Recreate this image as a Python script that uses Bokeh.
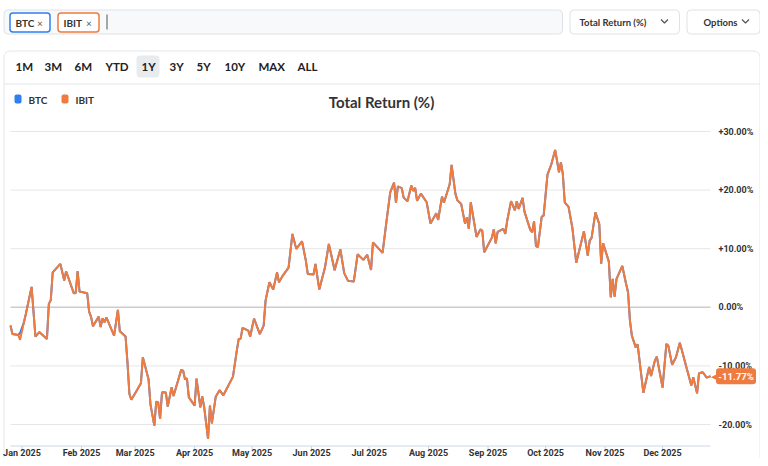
from datetime import datetime
from bokeh.plotting import figure
from bokeh.models import Range1d
from bokeh.core.properties import value
from bokeh.embed import file_html
from bokeh.resources import INLINE

# ---------------- data ----------------
dates = [
    "2024-12-26", "2024-12-27", "2024-12-30", "2024-12-31", "2025-01-02", "2025-01-03",
    "2025-01-06", "2025-01-08", "2025-01-10", "2025-01-14", "2025-01-15", "2025-01-16",
    "2025-01-17", "2025-01-21", "2025-01-23", "2025-01-24", "2025-01-28", "2025-01-29",
    "2025-01-30", "2025-01-31", "2025-02-04", "2025-02-05", "2025-02-06", "2025-02-07",
    "2025-02-10", "2025-02-11", "2025-02-12", "2025-02-13", "2025-02-14", "2025-02-18",
    "2025-02-20", "2025-02-21", "2025-02-24", "2025-02-25", "2025-02-26", "2025-02-27",
    "2025-03-02", "2025-03-04", "2025-03-05", "2025-03-08", "2025-03-09", "2025-03-11",
    "2025-03-12", "2025-03-13", "2025-03-14", "2025-03-15", "2025-03-17", "2025-03-18",
    "2025-03-20", "2025-03-21", "2025-03-25", "2025-03-26", "2025-03-27", "2025-03-28",
    "2025-03-29", "2025-04-01", "2025-04-02", "2025-04-04", "2025-04-05", "2025-04-06",
    "2025-04-08", "2025-04-09", "2025-04-10", "2025-04-12", "2025-04-14", "2025-04-16",
    "2025-04-21", "2025-04-23", "2025-04-24", "2025-04-25", "2025-04-26", "2025-04-29",
    "2025-04-30", "2025-05-01", "2025-05-02", "2025-05-05", "2025-05-07", "2025-05-08",
    "2025-05-10", "2025-05-12", "2025-05-14", "2025-05-15", "2025-05-17", "2025-05-20",
    "2025-05-22", "2025-05-24", "2025-05-27", "2025-05-29", "2025-05-30", "2025-06-02",
    "2025-06-03", "2025-06-05", "2025-06-08", "2025-06-10", "2025-06-13", "2025-06-16",
    "2025-06-18", "2025-06-20", "2025-06-23", "2025-06-25", "2025-06-28", "2025-06-30",
    "2025-07-02", "2025-07-03", "2025-07-08", "2025-07-10", "2025-07-12", "2025-07-14",
    "2025-07-15", "2025-07-16", "2025-07-18", "2025-07-19", "2025-07-21", "2025-07-23",
    "2025-07-24", "2025-07-25", "2025-07-26", "2025-07-28", "2025-07-31", "2025-08-02",
    "2025-08-05", "2025-08-06", "2025-08-08", "2025-08-09", "2025-08-12", "2025-08-13",
    "2025-08-15", "2025-08-16", "2025-08-18", "2025-08-20", "2025-08-21", "2025-08-22",
    "2025-08-23", "2025-08-26", "2025-08-28", "2025-08-29", "2025-08-30", "2025-09-03",
    "2025-09-04", "2025-09-05", "2025-09-06", "2025-09-09", "2025-09-10", "2025-09-11",
    "2025-09-13", "2025-09-15", "2025-09-16", "2025-09-17", "2025-09-19", "2025-09-20",
    "2025-09-23", "2025-09-24", "2025-09-25", "2025-09-26", "2025-09-27", "2025-09-29",
    "2025-09-30", "2025-10-02", "2025-10-04", "2025-10-06", "2025-10-08", "2025-10-09",
    "2025-10-10", "2025-10-11", "2025-10-13", "2025-10-15", "2025-10-17", "2025-10-21",
    "2025-10-23", "2025-10-24", "2025-10-25", "2025-10-27", "2025-10-29", "2025-10-30",
    "2025-10-31", "2025-11-03", "2025-11-04", "2025-11-05", "2025-11-06", "2025-11-07",
    "2025-11-10", "2025-11-12", "2025-11-13", "2025-11-14", "2025-11-15", "2025-11-17",
    "2025-11-18", "2025-11-21", "2025-11-24", "2025-11-25", "2025-11-27", "2025-11-28",
    "2025-12-01", "2025-12-03", "2025-12-04", "2025-12-06", "2025-12-08", "2025-12-10",
    "2025-12-11", "2025-12-16", "2025-12-17", "2025-12-19", "2025-12-20", "2025-12-22",
    "2025-12-24", "2025-12-26",
]

ibit_values = [
    -3.12, -4.54, -4.71, -5.56, -2.56, -1.13,
    3.48, -5.00, -4.23, -5.39, 0.58, 1.23,
    5.97, 7.41, 4.56, 6.14, 2.39, 2.45,
    6.20, 2.68, 2.39, -0.73, -1.64, -3.24,
    -1.59, -3.38, -1.88, -2.56, -1.71, -4.83,
    -0.43, -4.10, -5.00, -9.44, -14.78, -15.78,
    -14.13, -12.97, -8.53, -12.34, -16.60, -20.19,
    -16.09, -16.21, -19.04, -14.51, -14.56, -16.95,
    -13.65, -15.15, -10.68, -10.80, -12.30, -12.12,
    -15.36, -16.77, -12.17, -17.06, -15.19, -17.06,
    -22.46, -16.77, -19.80, -15.27, -14.15, -15.02,
    -11.83, -7.39, -5.39, -5.35, -3.52, -3.98,
    -5.00, -3.41, -1.93, -4.57, -3.12, 1.14,
    4.27, 3.05, 5.97, 4.27, 5.41, 6.77,
    12.53, 9.97, 11.26, 7.97, 5.70, 5.58,
    7.41, 3.05, 6.83, 10.82, 6.33, 9.90,
    5.84, 4.51, 4.39, 9.04, 8.09, 8.96,
    6.38, 11.09, 9.30, 14.54, 19.62, 21.28,
    17.83, 20.63, 20.34, 18.72, 18.09, 20.77,
    19.86, 20.38, 18.16, 19.40, 17.92, 14.28,
    16.04, 14.91, 18.89, 17.83, 20.99, 24.30,
    19.35, 18.28, 17.65, 14.28, 15.36, 13.38,
    17.92, 12.01, 13.29, 13.09, 9.39, 11.89,
    13.29, 10.92, 12.88, 13.38, 12.53, 14.80,
    18.12, 16.55, 18.09, 16.79, 18.67, 16.33,
    13.26, 12.80, 14.68, 10.44, 10.29, 15.48,
    15.65, 22.65, 24.40, 26.86, 23.04, 24.74,
    22.76, 17.92, 17.12, 13.52, 7.59, 12.97,
    8.82, 11.38, 11.84, 16.21, 14.20, 7.46,
    10.92, 7.80, 1.71, 4.85, 1.83, 4.85,
    7.06, 3.99, 2.56, -2.27, -4.83, -6.83,
    -6.31, -14.59, -10.19, -11.74, -9.10, -8.41,
    -13.70, -6.25, -6.54, -9.81, -8.53, -6.06,
    -7.25, -13.36, -11.95, -14.68, -11.26, -11.09,
    -12.00, -11.77,
]

# BTC tracks IBIT almost exactly; it differs visibly only at year start
btc_values = list(ibit_values)
btc_values[3] = -4.40

series_names = ["BTC", "IBIT"]
series_colors = ["#2f7ff0", "#ef7b3e"]
y_ticks = [-20, -10, 0, 10, 20, 30]
month_ticks = ["2025-01-01", "2025-02-01", "2025-03-01", "2025-04-01", "2025-05-01", "2025-06-01",
               "2025-07-01", "2025-08-01", "2025-09-01", "2025-10-01", "2025-11-01", "2025-12-01"]
timeframes = ["1M", "3M", "6M", "YTD", "1Y", "3Y", "5Y", "10Y", "MAX", "ALL"]
selected_timeframe = "1Y"
chart_title = "Total Return (%)"
metric_button = "Total Return (%)"
options_button = "Options"

# ---------------- layout constants (pixels) ----------------
W, H = 760, 458
PLOT_L, PLOT_R = 10, 710          # horizontal extent of the plotting area
ZERO_PX, PX_PER_PCT = 306.8, 5.86  # vertical placement of 0 % and scale
AXIS_Y = 445.5
UI = "Lato"
NUM = "Roboto"

x = [datetime.strptime(d, "%Y-%m-%d") for d in dates]
mt = [datetime.strptime(d, "%Y-%m-%d") for d in month_ticks]
span = x[-1] - x[0]
x_start = x[0] - span * (PLOT_L / (PLOT_R - PLOT_L))
x_end = x[-1] + span * ((W - PLOT_R) / (PLOT_R - PLOT_L))
y_start = (ZERO_PX - H) / PX_PER_PCT
y_end = ZERO_PX / PX_PER_PCT

p = figure(width=W, height=H, x_axis_type="datetime", x_axis_location=None, y_axis_location=None,
           toolbar_location=None, output_backend="svg",
           x_range=Range1d(x_start, x_end), y_range=Range1d(y_start, y_end),
           min_border=0, min_border_left=0, min_border_right=0,
           min_border_top=0, min_border_bottom=0)
p.outline_line_color = None
p.background_fill_color = "white"
p.border_fill_color = "white"
for g in p.grid:
    g.visible = False

# pixel coordinate system for the page chrome
PX = "px"
p.extra_x_ranges = {PX: Range1d(0, W)}
p.extra_y_ranges = {PX: Range1d(H, 0)}


def box(l, t, r, b, fill=None, line=None, lw=1, radius=0):
    kw = dict(left=[l], right=[r], top=[t], bottom=[b], x_range_name=PX, y_range_name=PX,
              fill_color=fill, fill_alpha=1 if fill else 0, line_color=line, line_width=lw)
    try:
        p.quad(border_radius=radius, **kw)
    except Exception:
        p.quad(**kw)


def label(xp, yp, s, size="10px", style="bold", color="#333333", align="left", font=UI):
    p.text(x=[xp], y=[yp], text=[s], x_range_name=PX, y_range_name=PX,
           text_font=value(font), text_font_size=value(size), text_font_style=style,
           text_color=color, text_align=align, text_baseline="middle")


def chevron(cx, cy):
    p.line(x=[cx - 3.5, cx, cx + 3.5], y=[cy - 2, cy + 1.5, cy - 2], x_range_name=PX, y_range_name=PX,
           line_color="#555555", line_width=1.2)


# search bar with ticker chips
box(3.5, 9.5, 562, 33.5, fill="#f8f9fa", line="#dee2e6", radius=4)
chip_x = [(9.5, 49.5), (57.5, 98.5)]
for (l, r), name, col in zip(chip_x, series_names, series_colors):
    box(l, 12.5, r, 31.5, fill="white", line=col, lw=1.5, radius=3)
    label(l + 5.5, 22, name, size="10px")
    label(r - 13, 22, "\u00D7", size="10px", style="normal", color="#555555")
p.segment(x0=[106.5], x1=[106.5], y0=[14], y1=[29], x_range_name=PX, y_range_name=PX,
          line_color="#555555", line_width=1)

# dropdown buttons
box(569.5, 9.5, 679, 33.5, fill="white", line="#dee2e6", radius=4)
label(579, 21.5, metric_button, size="9.5px")
chevron(664, 21)
box(686.5, 9.5, 759.5, 33.5, fill="white", line="#dee2e6", radius=4)
label(703, 21.5, options_button, size="9.5px")
chevron(745, 21)

# card
box(3.5, 50.5, 759.5, 470, line="#e3e6ea", radius=6)
tf_x = [15, 44, 74, 105, 141, 169, 196, 224, 258, 297]
for tx, tf in zip(tf_x, timeframes):
    if tf == selected_timeframe:
        box(tx - 5, 55, tx + 18, 77, fill="#e9ecef", radius=4)
    label(tx, 66, tf, size="11.5px", color="#222222")
p.segment(x0=[3.5], x1=[759.5], y0=[83.5], y1=[83.5], x_range_name=PX, y_range_name=PX,
          line_color="#e3e6ea", line_width=1)

# legend
leg_x = [14, 61]
for lx, name, col in zip(leg_x, series_names, series_colors):
    box(lx, 94, lx + 7, 103, fill=col, radius=2)
    label(lx + 14, 99, name, size="10px", color="#333333")

# title
label(381, 101, chart_title, size="15px", color="#333333", align="center")

# ---------------- chart ----------------
# horizontal grid lines (zero line darker)
p.segment(x0=[x[0]] * len(y_ticks), x1=[x[-1]] * len(y_ticks), y0=y_ticks, y1=y_ticks,
          line_color=["#cccccc" if t == 0 else "#e6e6e6" for t in y_ticks],
          line_width=[1.6 if t == 0 else 1 for t in y_ticks])

# y tick labels on the right
y_labels = [("+" if t > 0 else "") + f"{t:.2f}%" for t in y_ticks]
p.text(x=[x[-1]] * len(y_ticks), y=y_ticks, text=y_labels, x_offset=8,
       text_font=value(NUM), text_font_size=value("9px"), text_font_style="bold",
       text_color="#333333", text_align="left", text_baseline="middle")

# x axis: line, ticks and month labels
p.segment(x0=[x[0]], x1=[x[-1]], y0=[AXIS_Y], y1=[AXIS_Y], y_range_name=PX,
          line_color="#ccd6eb", line_width=1)
p.segment(x0=mt, x1=mt, y0=[AXIS_Y] * len(mt), y1=[AXIS_Y + 5] * len(mt), y_range_name=PX,
          line_color="#ccd6eb", line_width=1)
p.text(x=mt, y=[AXIS_Y + 7] * len(mt), text=[d.strftime("%b %Y") for d in mt], y_range_name=PX,
       text_font=value(NUM), text_font_size=value("9px"), text_font_style="bold",
       text_color="#333333", text_align="center", text_baseline="middle")

# series
p.line(x, btc_values, line_color=series_colors[0], line_width=2)
p.line(x, ibit_values, line_color=series_colors[1], line_width=2)

# last value tag
last_val = ibit_values[-1]
tag_x = x[-1] + span * (25.5 / (PLOT_R - PLOT_L))
tag_kw = dict(x=[tag_x], y=[last_val], width=40, height=16, width_units="screen",
              height_units="screen", fill_color=series_colors[1], line_color=None)
try:
    p.rect(border_radius=3, **tag_kw)
except Exception:
    p.rect(**tag_kw)
p.text(x=[x[-1]], y=[last_val], text=["\u25C0"], x_offset=0.5,
       text_font=value("DejaVu Sans"), text_font_size=value("11px"),
       text_color=series_colors[1], text_align="left", text_baseline="middle")
p.text(x=[tag_x], y=[last_val], text=[f"{last_val:.2f}%"],
       text_font=value(NUM), text_font_size=value("9.5px"), text_font_style="bold",
       text_color="white", text_align="center", text_baseline="middle")

open("out.html", "w").write(file_html(p, INLINE))
